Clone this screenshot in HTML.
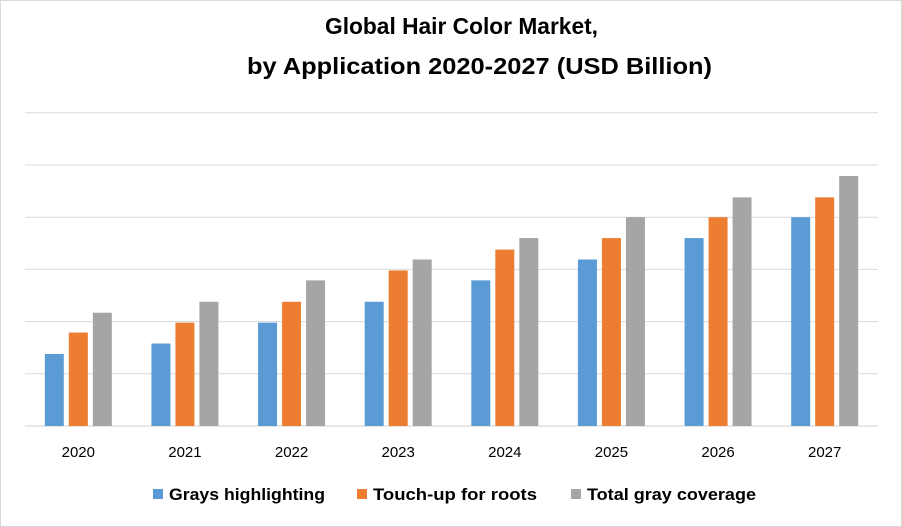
<!DOCTYPE html>
<html><head><meta charset="utf-8"><style>
body{margin:0;background:#fff;}
svg{display:block;font-family:"Liberation Sans",sans-serif;}
</style></head><body>
<svg id="c" width="902" height="527">
<rect x="0.5" y="0.5" width="901" height="526" fill="#fff" stroke="#d9d9d9"/>
<text x="325" y="34" font-size="23" font-weight="bold" fill="#000" textLength="273" lengthAdjust="spacingAndGlyphs">Global Hair Color Market,</text>
<text x="247" y="74" font-size="23" font-weight="bold" fill="#000" textLength="465" lengthAdjust="spacingAndGlyphs">by Application 2020-2027 (USD Billion)</text>
<g id="grid"></g><g id="bars"></g><g id="xl"></g><g id="legend"></g>
</svg>
<script>
const categories=["2020","2021","2022","2023","2024","2025","2026","2027"];
const seriesNames=["Grays highlighting","Touch-up for roots","Total gray coverage"];
const grays=[1.38,1.58,1.98,2.38,2.79,3.19,3.6,4.0];
const touchup=[1.79,1.98,2.38,2.98,3.38,3.6,4.0,4.38];
const total=[2.17,2.38,2.79,3.19,3.6,4.0,4.38,4.79];
const gridTicks=[0,1,2,3,4,5,6];
const colors=["#5b9bd5","#ed7d31","#a5a5a5"];
const NS="http://www.w3.org/2000/svg";
const x0=25,x1=878,yBase=426,unit=52.2;
const y=v=>yBase-v*unit;
const bandW=(x1-x0)/categories.length;
const xc=i=>x0+bandW*(i+0.5);
function mk(t,a,p){const e=document.createElementNS(NS,t);for(const k in a)e.setAttribute(k,a[k]);p.appendChild(e);return e;}
const G=document.getElementById('grid'),B=document.getElementById('bars'),XL=document.getElementById('xl'),L=document.getElementById('legend');
gridTicks.forEach(t=>{const l=mk('line',{x1:x0,x2:x1,y1:y(t),y2:y(t),stroke:t===0?'#d0d0d0':'#d9d9d9','stroke-width':1},G);

});
const series=[grays,touchup,total];
const bw=19,gap=5;
series.forEach((s,si)=>{s.forEach((v,i)=>{const bx=xc(i)-(bw*1.5+gap)+si*(bw+gap);
const r=mk('rect',{x:bx,y:y(v),width:bw,height:yBase-y(v),fill:colors[si]},B);

});});
categories.forEach((c,i)=>{const t=mk('text',{x:xc(i),y:457,'text-anchor':'middle','font-size':15,fill:'#000'},XL);t.textContent=c;

});
const lx=[153,357,571];
const lw=[156,164,169];
seriesNames.forEach((n,i)=>{const g=mk('g',{},L);


mk('rect',{x:lx[i],y:489,width:10,height:10,fill:colors[i]},g);
const t=mk('text',{x:lx[i]+16,y:500,'font-size':17,'font-weight':'bold',fill:'#000',textLength:lw[i],lengthAdjust:'spacingAndGlyphs'},g);t.textContent=n;});
</script>
</body></html>
